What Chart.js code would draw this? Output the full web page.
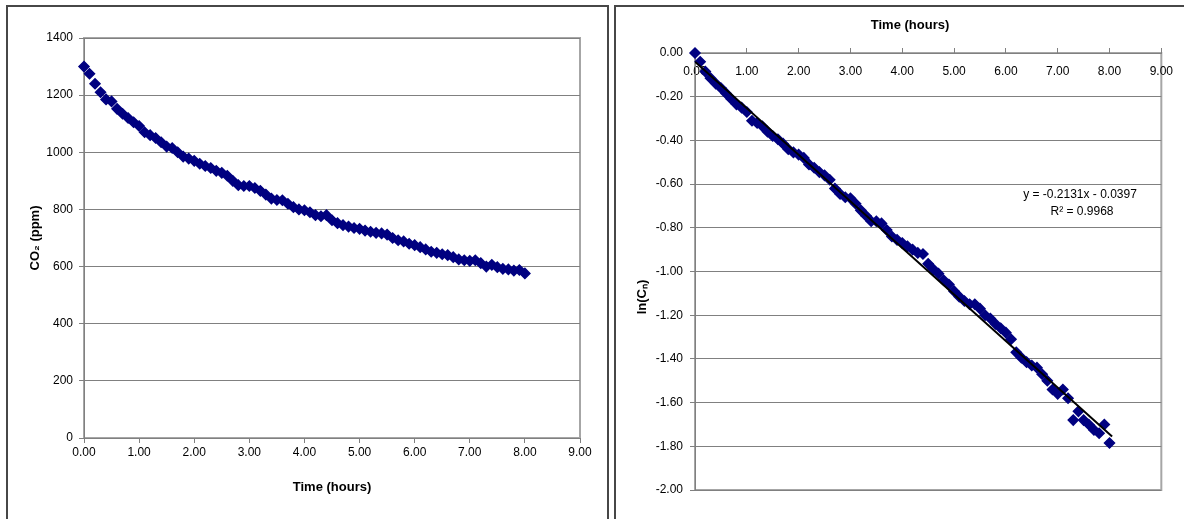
<!DOCTYPE html>
<html>
<head>
<meta charset="utf-8">
<script src="https://cdn.jsdelivr.net/npm/chart.js@4.4.0/dist/chart.umd.min.js"></script>
<style>
body { margin:0; background:#fff; width:1184px; height:519px; overflow:hidden; position:relative; }
.frame { position:absolute; top:5px; height:600px; border:2px solid #474747; box-sizing:border-box; }
#frameL { left:6px; width:603px; }
#frameR { left:614px; width:600px; }
canvas { position:absolute; top:0; }
#co2Chart { left:0; }
#lnChart { left:612px; }
</style>
</head>
<body>
<div class="frame" id="frameL"></div>
<div class="frame" id="frameR"></div>
<canvas id="co2Chart" width="612" height="519"></canvas>
<canvas id="lnChart" width="572" height="519"></canvas>
<script>
// time of each reading (hours)
var hours = [0.0, 0.1, 0.2, 0.3, 0.4, 0.5, 0.6, 0.7, 0.8, 0.9,
    1.0, 1.1, 1.2, 1.3, 1.4, 1.5, 1.6, 1.7, 1.8, 1.9,
    2.0, 2.1, 2.2, 2.3, 2.4, 2.5, 2.6, 2.7, 2.8, 2.9,
    3.0, 3.1, 3.2, 3.3, 3.4, 3.5, 3.6, 3.7, 3.8, 3.9,
    4.0, 4.1, 4.2, 4.3, 4.4, 4.5, 4.6, 4.7, 4.8, 4.9,
    5.0, 5.1, 5.2, 5.3, 5.4, 5.5, 5.6, 5.7, 5.8, 5.9,
    6.0, 6.1, 6.2, 6.3, 6.4, 6.5, 6.6, 6.7, 6.8, 6.9,
    7.0, 7.1, 7.2, 7.3, 7.4, 7.5, 7.6, 7.7, 7.8, 7.9, 8.0];

// CO2 concentration (ppm)
var co2Ppm = [1300, 1275, 1240, 1210, 1185, 1178, 1152, 1135, 1120, 1105,
    1092, 1070, 1060, 1050, 1035, 1020, 1015, 1000, 985, 978,
    970, 960, 952, 945, 935, 928, 918, 900, 885, 882,
    882, 875, 865, 852, 838, 833, 832, 820, 808, 800,
    797, 790, 780, 776, 780, 762, 752, 745, 740, 735,
    732, 726, 722, 718, 716, 712, 700, 692, 688, 680,
    675, 668, 660, 652, 648, 643, 640, 633, 625, 622,
    620, 622, 612, 600, 606, 598, 592, 590, 586, 588, 576];

// ln of normalised concentration
var lnCn = [0.000, -0.040, -0.085, -0.115, -0.140, -0.160, -0.185, -0.210, -0.235, -0.250,
    -0.270, -0.310, -0.320, -0.335, -0.360, -0.380, -0.395, -0.415, -0.440, -0.455,
    -0.465, -0.480, -0.510, -0.525, -0.545, -0.560, -0.580, -0.620, -0.645, -0.660,
    -0.665, -0.690, -0.720, -0.745, -0.770, -0.770, -0.780, -0.810, -0.840, -0.855,
    -0.870, -0.885, -0.900, -0.915, -0.920, -0.965, -0.990, -1.010, -1.040, -1.060,
    -1.090, -1.115, -1.135, -1.150, -1.150, -1.170, -1.200, -1.215, -1.240, -1.260,
    -1.280, -1.310, -1.370, -1.395, -1.415, -1.430, -1.440, -1.470, -1.500, -1.540,
    -1.560, -1.540, -1.580, -1.680, -1.640, -1.680, -1.700, -1.725, -1.740, -1.700, -1.785];

// linear trendline end points (y = -0.2131x - 0.0397)
var trendHours = [0, 8.05];
var trendLn = [-0.040, -1.755];

var trendText = ["y = -0.2131x - 0.0397", "R\u00b2 = 0.9968"];

Chart.defaults.font.family = "'Liberation Sans', Arial, sans-serif";
Chart.defaults.font.size = 12;
Chart.defaults.color = "#000";
Chart.defaults.animation = false;

function toPoints(xs, ys) {
    var pts = [];
    for (var i = 0; i < xs.length; i++) {
        pts.push({ x: xs[i], y: ys[i] });
    }
    return pts;
}

var plotBorder = {
    id: "plotBorder",
    beforeDraw: function (chart) {
        var a = chart.chartArea;
        var ctx = chart.ctx;
        ctx.save();
        ctx.strokeStyle = "#a6a6a6";
        ctx.lineWidth = 2;
        ctx.strokeRect(a.left, a.top, a.right - a.left, a.bottom - a.top);
        ctx.restore();
    }
};

var lnLabels = {
    id: "lnLabels",
    afterDraw: function (chart) {
        var ctx = chart.ctx;
        ctx.save();
        ctx.fillStyle = "#000";
        ctx.textAlign = "center";
        ctx.textBaseline = "middle";
        ctx.font = "12px 'Liberation Sans', Arial, sans-serif";
        ctx.fillText(trendText[0], 468, 195);
        ctx.fillText(trendText[1], 470, 212);
        ctx.font = "bold 13px 'Liberation Sans', Arial, sans-serif";
        ctx.fillText("Time (hours)", 298, 25);
        ctx.translate(30, 297);
        ctx.rotate(-Math.PI / 2);
        ctx.fillText("ln(C\u2099)", 0, 0);
        ctx.restore();
    }
};

var markerStyle = {
    pointStyle: "rectRot",
    pointRadius: 5,
    pointBackgroundColor: "#000080",
    pointBorderColor: "#000080",
    pointBorderWidth: 1.5,
    clip: false
};

var co2Chart = new Chart(document.getElementById("co2Chart"), {
    type: "scatter",
    data: {
        datasets: [Object.assign({ data: toPoints(hours, co2Ppm) }, markerStyle)]
    },
    options: {
        responsive: false,
        layout: { padding: { left: 24, right: 32, top: 38, bottom: 20 } },
        plugins: { legend: { display: false }, tooltip: { enabled: false } },
        scales: {
            x: {
                type: "linear", min: 0, max: 9,
                afterFit: function (s) { s.height = 61; },
                grid: { drawOnChartArea: false, tickLength: 5, color: "#808080" },
                border: { color: "#808080" },
                ticks: { stepSize: 1, padding: 2, maxRotation: 0,
                    callback: function (v) { return v.toFixed(2); } },
                title: { display: true, text: "Time (hours)", font: { weight: "bold", size: 13 } }
            },
            y: {
                min: 0, max: 1400,
                afterFit: function (s) { s.width = 60; },
                grid: { color: "#808080", tickLength: 5 },
                border: { color: "#808080" },
                ticks: { stepSize: 200, padding: 6,
                    callback: function (v) { return String(v); } },
                title: { display: true, text: "CO\u2082 (ppm)", font: { weight: "bold", size: 13 } }
            }
        }
    },
    plugins: [plotBorder]
});

var lnChart = new Chart(document.getElementById("lnChart"), {
    type: "scatter",
    data: {
        datasets: [
            { data: toPoints(trendHours, trendLn), showLine: true, borderColor: "#000", borderWidth: 2, pointRadius: 0 },
            Object.assign({ data: toPoints(hours, lnCn) }, markerStyle)
        ]
    },
    options: {
        responsive: false,
        layout: { padding: { left: 0, right: 17, top: 0, bottom: 29 } },
        plugins: { legend: { display: false }, tooltip: { enabled: false } },
        scales: {
            x: {
                type: "linear", position: "top", min: 0, max: 9,
                afterFit: function (s) { s.height = 53; },
                grid: { drawOnChartArea: false, tickLength: 5, color: "#808080" },
                border: { color: "#808080" },
                ticks: { stepSize: 1, padding: 11, mirror: true, maxRotation: 0,
                    callback: function (v) { return v.toFixed(2); } }
            },
            y: {
                min: -2, max: 0,
                afterFit: function (s) { s.width = 83; },
                grid: { color: "#808080", tickLength: 5 },
                border: { color: "#808080" },
                ticks: { stepSize: 0.2, padding: 7,
                    callback: function (v) { return v.toFixed(2); } }
            }
        }
    },
    plugins: [plotBorder, lnLabels]
});
</script>
</body>
</html>
